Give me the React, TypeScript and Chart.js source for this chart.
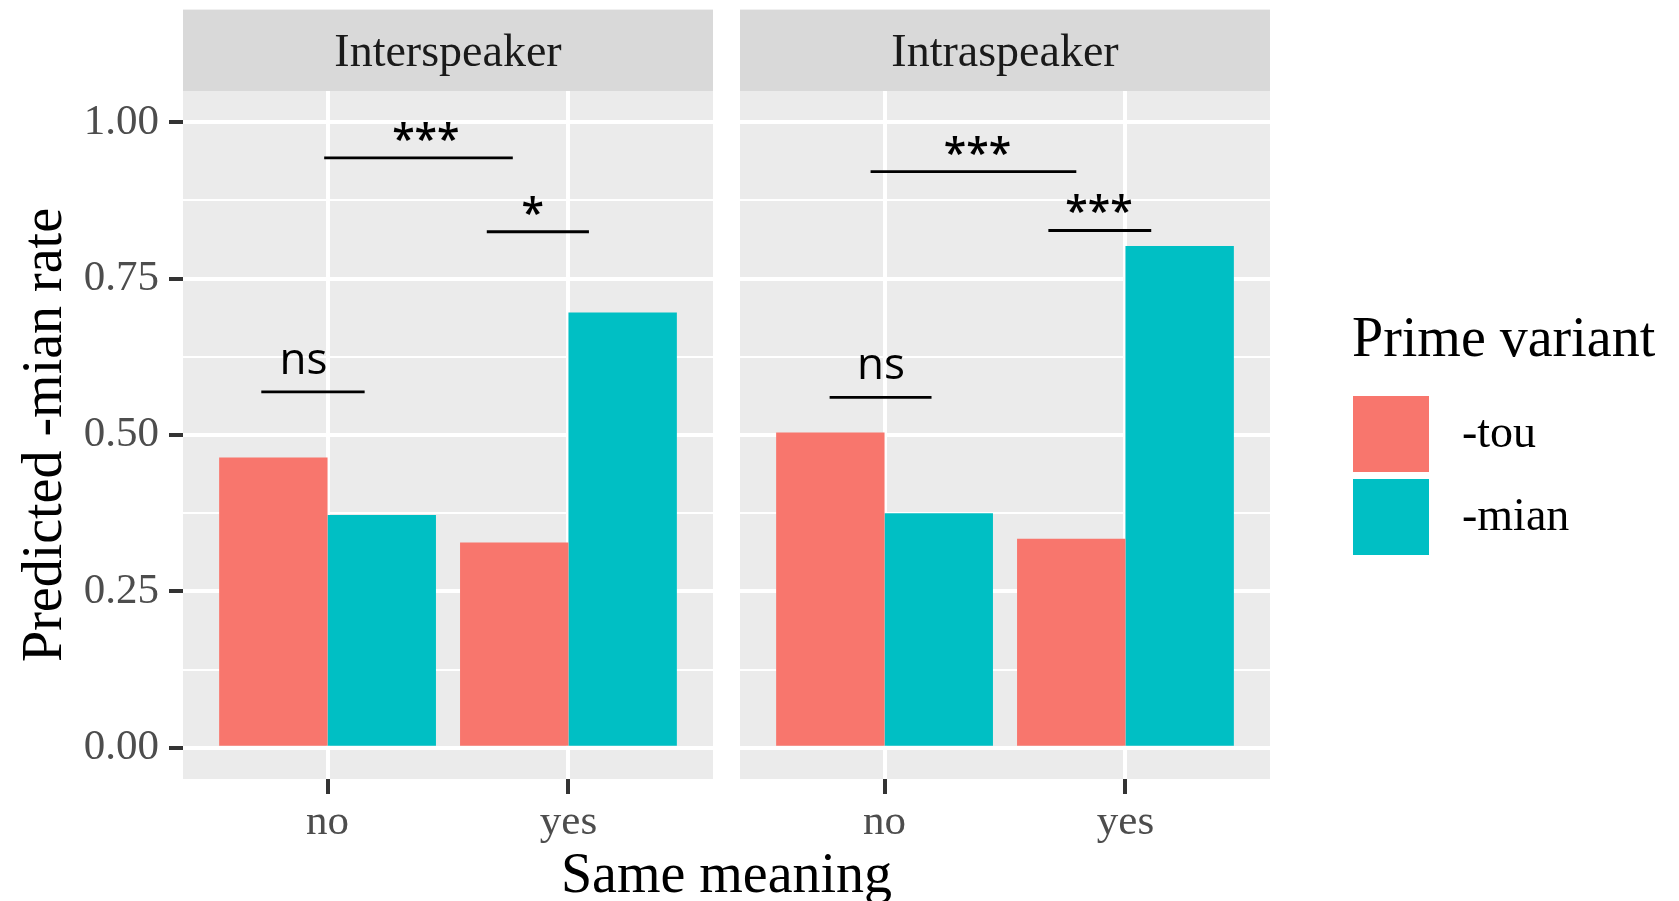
import React, { useEffect, useRef } from 'react';
import { Chart, registerables } from 'chart.js';
Chart.register(...registerables);

// ---- data ----
const categories = ['no', 'yes'];
const categoryPositions = [1, 2];
const facets = ['Interspeaker', 'Intraspeaker'];
const seriesNames = ['-tou', '-mian'];
const seriesColors = ['#F8766D', '#00BFC4'];

const interTou = [0.464, 0.328];
const interMian = [0.372, 0.696];
const intraTou = [0.504, 0.334];
const intraMian = [0.375, 0.802];

const yMajorTicks = [0, 0.25, 0.5, 0.75, 1];
const yMinorTicks = [0.125, 0.375, 0.625, 0.875];

// significance brackets (data units)
const interSigLabels = ['ns', '***', '*'];
const interSigStart = [0.725, 0.986, 1.661];
const interSigEnd = [1.154, 1.769, 2.085];
const interSigY = [0.569, 0.943, 0.825];
const interSigTextX = [0.9, 1.408, 1.852];

const intraSigLabels = ['ns', '***', '***'];
const intraSigStart = [0.772, 0.942, 1.68];
const intraSigEnd = [1.195, 1.796, 2.107];
const intraSigY = [0.56, 0.921, 0.827];
const intraSigTextX = [0.985, 1.386, 1.89];

const yTitle = 'Predicted -mian rate';
const xTitle = 'Same meaning';
const legendTitle = 'Prime variant';

// ---- layout constants ----
const W = 1679;
const H = 901;
const PANEL_TOP = 91;
const STRIP_H = 81.4;
const X_AXIS_H = 122;
const LEFT_PANEL_LEFT = 183;
const LEFT_PANEL_RIGHT = 713;
const RIGHT_PANEL_LEFT = 740;
const RIGHT_PANEL_RIGHT = 1270;

const SERIF = '"Liberation Serif", "Times New Roman", serif';
const SANS = '"Open Sans", "Noto Sans", sans-serif';

type Sig = { labels: string[]; start: number[]; end: number[]; y: number[]; textX: number[] };

function panelPlugin(strip: string, sig: Sig, isLeft: boolean) {
  return {
    id: 'panel' + strip,
    beforeDraw(chart: any) {
      const { ctx, chartArea: a } = chart;
      ctx.save();
      ctx.fillStyle = '#EBEBEB';
      ctx.fillRect(a.left, a.top, a.right - a.left, a.bottom - a.top);
      ctx.fillStyle = '#D9D9D9';
      ctx.fillRect(a.left, a.top - STRIP_H, a.right - a.left, STRIP_H);
      ctx.fillStyle = '#1A1A1A';
      ctx.font = `46px ${SERIF}`;
      ctx.textAlign = 'center';
      ctx.textBaseline = 'alphabetic';
      ctx.fillText(strip, (a.left + a.right) / 2, a.top - 24.6);
      ctx.restore();
    },
    afterDatasetsDraw(chart: any) {
      const { ctx } = chart;
      const xs = chart.scales.x;
      const ys = chart.scales.y;
      ctx.save();
      ctx.strokeStyle = '#000000';
      ctx.lineWidth = 2.8;
      ctx.fillStyle = '#000000';
      ctx.textAlign = 'center';
      ctx.textBaseline = 'alphabetic';
      for (let i = 0; i < sig.labels.length; i++) {
        const py = ys.getPixelForValue(sig.y[i]);
        ctx.beginPath();
        ctx.moveTo(xs.getPixelForValue(sig.start[i]), py);
        ctx.lineTo(xs.getPixelForValue(sig.end[i]), py);
        ctx.stroke();
        const isStar = sig.labels[i].includes('*');
        ctx.font = isStar ? `600 41px ${SANS}` : `44px ${SANS}`;
        const off = isStar ? 5 : 18;
        ctx.fillText(sig.labels[i], xs.getPixelForValue(sig.textX[i]), py - off);
      }
      ctx.restore();
    },
    afterDraw(chart: any) {
      if (!isLeft) return;
      const { ctx, chartArea: a } = chart;
      ctx.save();
      ctx.fillStyle = '#000000';
      // y title
      ctx.font = `56px ${SERIF}`;
      ctx.textAlign = 'center';
      ctx.textBaseline = 'alphabetic';
      ctx.save();
      ctx.translate(61, (a.top + a.bottom) / 2);
      ctx.rotate(-Math.PI / 2);
      ctx.fillText(yTitle, 0, 0);
      ctx.restore();
      // x title
      ctx.fillText(xTitle, (LEFT_PANEL_LEFT + RIGHT_PANEL_RIGHT) / 2, 892);
      // legend
      ctx.textAlign = 'left';
      ctx.font = `56px ${SERIF}`;
      ctx.fillText(legendTitle, 1352, 356);
      const keyX = 1353;
      const keyY0 = 396;
      const keySize = 76;
      const keyStep = 83;
      ctx.font = `46px ${SERIF}`;
      for (let i = 0; i < seriesNames.length; i++) {
        const ky = keyY0 + i * keyStep;
        ctx.fillStyle = seriesColors[i];
        ctx.fillRect(keyX, ky, keySize, keySize);
        ctx.fillStyle = '#000000';
        ctx.fillText(seriesNames[i], 1462, ky + keySize / 2 + 13);
      }
      ctx.restore();
    },
  };
}

function makeConfig(facetIdx: number): any {
  const isLeft = facetIdx === 0;
  const tou = isLeft ? interTou : intraTou;
  const mian = isLeft ? interMian : intraMian;
  const sig: Sig = isLeft
    ? { labels: interSigLabels, start: interSigStart, end: interSigEnd, y: interSigY, textX: interSigTextX }
    : { labels: intraSigLabels, start: intraSigStart, end: intraSigEnd, y: intraSigY, textX: intraSigTextX };
  const allY = [...yMajorTicks, ...yMinorTicks].sort((p, q) => p - q);
  const isMajor = (v: number) => yMajorTicks.some((m) => Math.abs(m - v) < 1e-9);
  return {
    type: 'bar',
    data: {
      datasets: [
        {
          label: seriesNames[0],
          data: categoryPositions.map((x, i) => ({ x, y: tou[i] })),
          backgroundColor: seriesColors[0],
          borderWidth: 0,
          categoryPercentage: 0.9,
          barPercentage: 1.0,
        },
        {
          label: seriesNames[1],
          data: categoryPositions.map((x, i) => ({ x, y: mian[i] })),
          backgroundColor: seriesColors[1],
          borderWidth: 0,
          categoryPercentage: 0.9,
          barPercentage: 1.0,
        },
      ],
    },
    options: {
      responsive: false,
      animation: false,
      events: [],
      devicePixelRatio: 1,
      layout: {
        padding: {
          left: isLeft ? 0 : RIGHT_PANEL_LEFT,
          right: isLeft ? W - LEFT_PANEL_RIGHT : W - RIGHT_PANEL_RIGHT,
          top: PANEL_TOP,
          bottom: 0,
        },
      },
      plugins: {
        legend: { display: false },
        tooltip: { enabled: false },
        title: { display: false },
      },
      scales: {
        x: {
          type: 'linear',
          min: 0.4,
          max: 2.6,
          offset: false,
          bounds: 'data',
          afterBuildTicks: (s: any) => {
            s.ticks = categoryPositions.map((v) => ({ value: v }));
          },
          afterFit: (s: any) => {
            s.height = X_AXIS_H;
          },
          ticks: {
            autoSkip: false,
            maxRotation: 0,
            padding: 3,
            color: '#4D4D4D',
            font: { family: 'Liberation Serif', size: 43 },
            callback: (v: number) => categories[categoryPositions.indexOf(v)] ?? '',
          },
          grid: {
            offset: false,
            color: '#FFFFFF',
            lineWidth: 4,
            drawTicks: true,
            tickLength: 15,
            tickWidth: 4,
            tickColor: '#333333',
          },
          border: { display: false },
        },
        y: {
          type: 'linear',
          min: -0.05,
          max: 1.05,
          afterBuildTicks: (s: any) => {
            s.ticks = allY.map((v) => ({ value: v }));
          },
          afterFit: (s: any) => {
            s.width = isLeft ? LEFT_PANEL_LEFT : 0;
          },
          ticks: {
            display: isLeft,
            padding: 10,
            color: '#4D4D4D',
            font: { family: 'Liberation Serif', size: 43 },
            callback: (v: number) => (isMajor(v) ? v.toFixed(2) : ''),
          },
          grid: {
            color: '#FFFFFF',
            lineWidth: (c: any) => (c.tick && isMajor(c.tick.value) ? 4 : 2),
            drawTicks: isLeft,
            tickLength: 14,
            tickWidth: 4,
            tickColor: (c: any) => (isLeft && c.tick && isMajor(c.tick.value) ? '#333333' : 'rgba(0,0,0,0)'),
          },
          border: { display: false },
        },
      },
    },
    plugins: [panelPlugin(facets[facetIdx], sig, isLeft)],
  };
}

export default function App() {
  const leftRef = useRef<HTMLCanvasElement>(null);
  const rightRef = useRef<HTMLCanvasElement>(null);
  useEffect(() => {
    const c1 = new Chart(leftRef.current as HTMLCanvasElement, makeConfig(0));
    const c2 = new Chart(rightRef.current as HTMLCanvasElement, makeConfig(1));
    return () => {
      c1.destroy();
      c2.destroy();
    };
  }, []);
  const canvasStyle: React.CSSProperties = { position: 'absolute', left: 0, top: 0, width: W, height: H };
  return (
    <div style={{ position: 'fixed', left: 0, top: 0, width: W, height: H, background: '#FFFFFF' }}>
      <canvas ref={leftRef} width={W} height={H} style={canvasStyle} />
      <canvas ref={rightRef} width={W} height={H} style={canvasStyle} />
    </div>
  );
}
